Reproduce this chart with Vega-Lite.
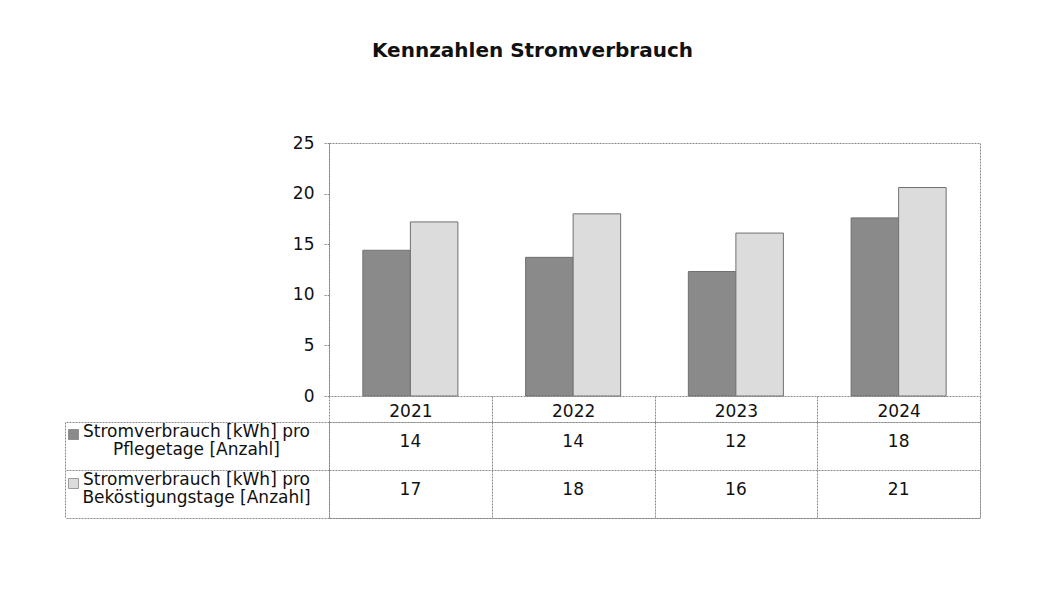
{
  "$schema": "https://vega.github.io/schema/vega-lite/v6.json",
  "background": "white",
  "padding": {"left": 64, "top": 40, "right": 5, "bottom": 5},
  "title": {"text": "Kennzahlen Stromverbrauch", "font": "DejaVu Sans", "fontSize": 20, "fontWeight": "bold", "color": "#111111", "anchor": "middle", "offset": 73, "dx": 10},
  "datasets": {
    "d": [
      {"year": "2021", "series": "Stromverbrauch [kWh] pro|Pflegetage  [Anzahl]", "value": 14.4},
      {"year": "2022", "series": "Stromverbrauch [kWh] pro|Pflegetage  [Anzahl]", "value": 13.7},
      {"year": "2023", "series": "Stromverbrauch [kWh] pro|Pflegetage  [Anzahl]", "value": 12.3},
      {"year": "2024", "series": "Stromverbrauch [kWh] pro|Pflegetage  [Anzahl]", "value": 17.6},
      {"year": "2021", "series": "Stromverbrauch [kWh] pro|Beköstigungstage [Anzahl]", "value": 17.2},
      {"year": "2022", "series": "Stromverbrauch [kWh] pro|Beköstigungstage [Anzahl]", "value": 18.0},
      {"year": "2023", "series": "Stromverbrauch [kWh] pro|Beköstigungstage [Anzahl]", "value": 16.1},
      {"year": "2024", "series": "Stromverbrauch [kWh] pro|Beköstigungstage [Anzahl]", "value": 20.6}
    ]
  },
  "config": {
    "font": "DejaVu Sans",
    "view": {"stroke": "#8a8a8a", "strokeDash": [2, 1], "strokeWidth": 1},
    "axis": {
      "domainColor": "#8a8a8a", "domainDash": [2, 1],
      "tickColor": "#8a8a8a", "tickDash": [2, 1],
      "gridColor": "#8a8a8a", "gridDash": [2, 1],
      "labelColor": "#111111", "labelFont": "DejaVu Sans", "title": null
    }
  },
  "bounds": "flush",
  "spacing": 26,
  "vconcat": [
    {
      "width": 651,
      "height": 253,
      "data": {"name": "d"},
      "mark": {"type": "bar", "stroke": "#707070", "strokeWidth": 1},
      "encoding": {
        "x": {"field": "year", "type": "nominal", "scale": {"paddingInner": 0.416, "paddingOuter": 0.208}, "axis": null},
        "xOffset": {"field": "series", "type": "nominal", "sort": ["Stromverbrauch [kWh] pro|Pflegetage  [Anzahl]", "Stromverbrauch [kWh] pro|Beköstigungstage [Anzahl]"]},
        "y": {"field": "value", "type": "quantitative", "scale": {"domain": [0, 25]}, "axis": {"values": [0, 5, 10, 15, 20, 25], "grid": false, "tickSize": 5, "labelPadding": 10, "labelFontSize": 17}},
        "color": {
          "field": "series", "type": "nominal",
          "sort": ["Stromverbrauch [kWh] pro|Pflegetage  [Anzahl]", "Stromverbrauch [kWh] pro|Beköstigungstage [Anzahl]"],
          "scale": {"range": ["#8a8a8a", "#dcdcdc"]},
          "legend": {"orient": "none", "legendX": -261, "legendY": 286, "direction": "vertical", "symbolType": "square", "symbolSize": 100, "symbolStrokeColor": "#777777", "symbolStrokeWidth": 0.7, "labelExpr": "''", "labelFontSize": 10, "title": null, "rowPadding": 36}
        }
      }
    },
    {
      "width": 651,
      "height": 96,
      "data": {"name": "d"},
      "layer": [
        {
          "mark": {"type": "text", "fontSize": 17, "dy": -4, "color": "#111111"},
          "encoding": {
            "x": {"field": "year", "type": "nominal", "scale": {"paddingInner": 0, "paddingOuter": 0}, "axis": {"orient": "top", "tickBand": "extent", "tickSize": 26, "labelPadding": -24, "labelFontSize": 17, "labelAngle": 0, "grid": true, "domain": false}},
            "y": {"field": "series", "type": "nominal", "sort": ["Stromverbrauch [kWh] pro|Pflegetage  [Anzahl]", "Stromverbrauch [kWh] pro|Beköstigungstage [Anzahl]"], "scale": {"paddingInner": 0, "paddingOuter": 0}, "axis": {"orient": "left", "tickBand": "extent", "tickSize": 264, "labelAlign": "center", "labelBaseline": "middle", "labelPadding": -131, "labelOffset": -15, "labelFontSize": 17, "labelLineHeight": 18, "labelLimit": 0, "labelExpr": "split(datum.label, '|')", "grid": true, "domain": false}},
            "text": {"field": "value", "type": "quantitative", "format": ".0f"}
          }
        },
        {
          "mark": {"type": "text", "text": ""},
          "encoding": {
            "y": {"field": "series", "type": "nominal", "sort": ["Stromverbrauch [kWh] pro|Pflegetage  [Anzahl]", "Stromverbrauch [kWh] pro|Beköstigungstage [Anzahl]"], "axis": {"orient": "left", "offset": 264, "ticks": false, "labels": false, "domain": true, "grid": false}}
          }
        }
      ],
      "resolve": {"axis": {"y": "independent"}}
    }
  ]
}
